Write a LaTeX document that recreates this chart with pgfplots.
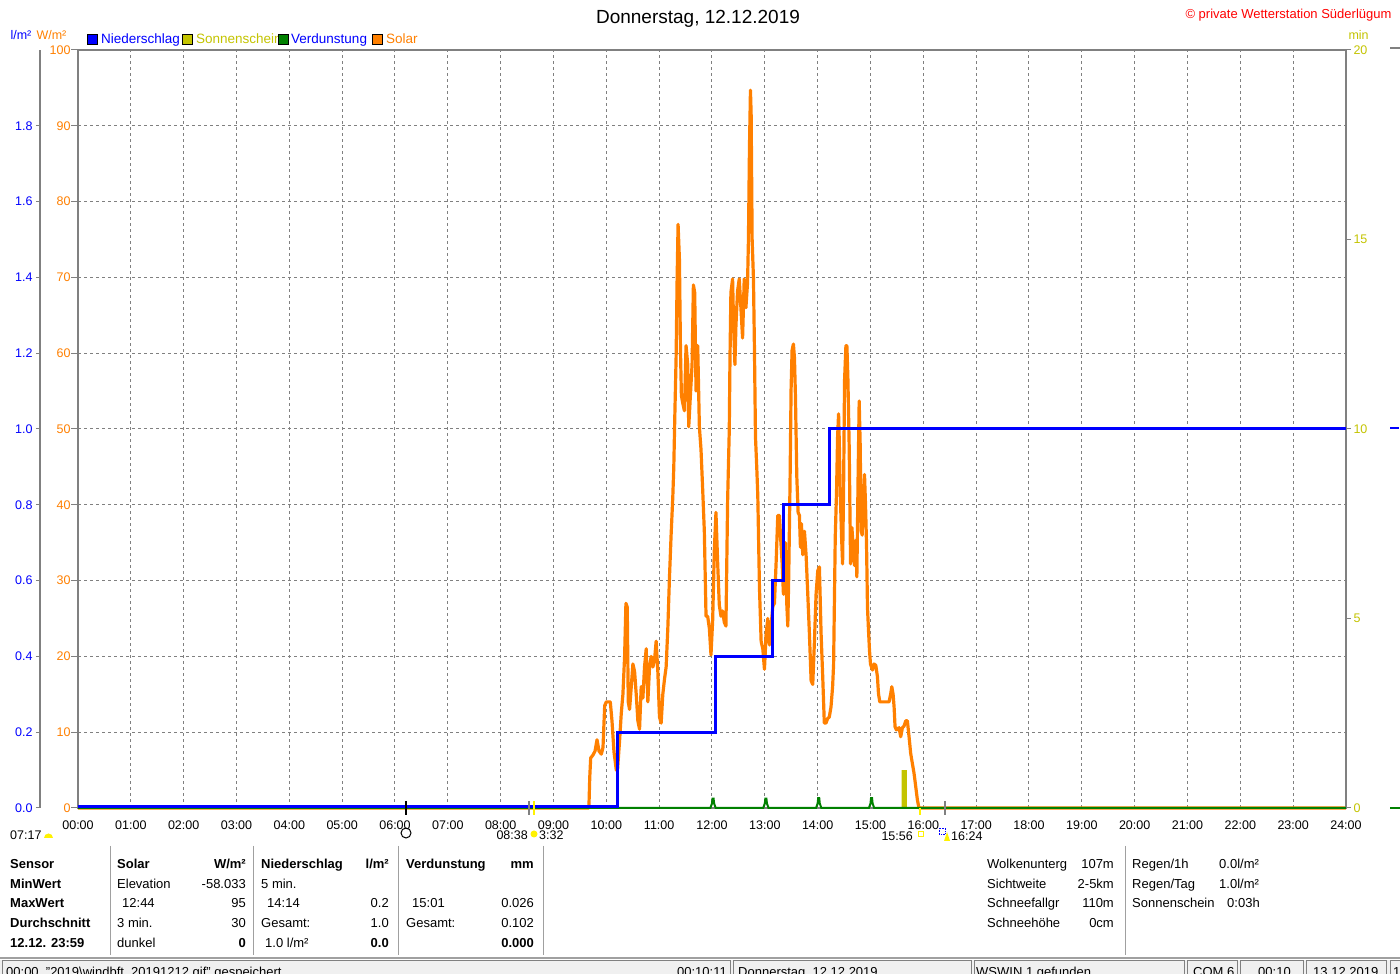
\documentclass[border=0pt]{standalone}
\usepackage{pgfplots}
\pgfplotsset{compat=1.18}
\usepackage{fontspec}
\setmainfont{Liberation Sans}

\definecolor{sorange}{HTML}{FF8000}
\definecolor{sblue}{HTML}{0000FF}
\definecolor{solive}{HTML}{C4C400}
\definecolor{sgreen}{HTML}{008000}
\definecolor{sgray}{HTML}{808080}
\definecolor{lgray}{HTML}{A0A0A0}
\definecolor{sbar}{HTML}{F0F0F0}

\newcommand{\fs}[1]{\fontsize{#1}{#1}\selectfont}

% Solar W/m2, time in hours
\pgfplotstableread{
h W
0 0
9.67 0
9.686 4
9.704 6.6
9.748 7
9.786 7.5
9.824 9
9.862 7.5
9.906 7.1
9.937 8
9.969 13.5
10.0 14
10.075 14
10.107 11.5
10.145 7.4
10.189 5
10.214 5.2
10.252 9
10.283 12.5
10.314 15
10.346 20
10.371 27
10.396 26.5
10.415 14
10.44 13
10.472 16
10.503 19
10.535 18
10.566 15
10.597 11.5
10.629 10.4
10.66 16
10.692 14.5
10.723 18.6
10.755 21
10.786 14
10.818 18.6
10.849 20
10.881 18.6
10.912 19.5
10.943 22
10.975 18
11.006 12
11.038 11.2
11.069 15
11.101 17
11.132 18.6
11.164 23.7
11.195 30.4
11.226 36
11.258 41
11.277 45
11.296 51.6
11.321 59.5
11.34 69.8
11.358 77
11.384 72.3
11.403 60.6
11.421 54.4
11.447 53.4
11.478 52.4
11.509 61
11.541 58.5
11.56 50.3
11.591 54.4
11.623 58.5
11.648 69
11.673 68
11.698 55
11.73 61
11.761 50.3
11.792 47.3
11.824 42
11.855 36.5
11.887 25.3
11.918 25.3
11.95 23.7
11.981 20.2
12.013 24.8
12.044 34
12.075 39
12.107 32.4
12.138 26.8
12.17 25.3
12.201 26
12.233 24.5
12.264 24
12.296 40.6
12.327 49.8
12.34 59
12.358 68
12.39 69.8
12.409 63.6
12.434 58.5
12.453 63.6
12.484 68.2
12.516 69.8
12.547 66
12.579 62
12.61 69.8
12.642 66
12.673 69.3
12.69 75
12.709 87
12.728 94.7
12.741 91.6
12.76 75
12.785 69.8
12.804 60.4
12.823 49
12.848 44.8
12.867 41.2
12.898 29.2
12.93 22
12.962 21
12.993 18.3
13.025 23
13.056 25
13.088 21.5
13.119 24
13.151 26.6
13.182 27
13.214 32.4
13.245 38.6
13.277 38.6
13.296 36
13.327 32.4
13.352 28.2
13.371 32.9
13.39 35
13.415 27
13.435 24
13.453 30.8
13.478 43.3
13.497 55.2
13.516 60.4
13.541 61.2
13.561 59.4
13.58 54.2
13.605 43.8
13.63 39
13.655 38.6
13.674 34.4
13.693 37.5
13.718 33.4
13.75 36.5
13.781 33.4
13.813 28.2
13.844 23
13.876 16.8
13.907 16.3
13.939 22
13.97 28.2
14.002 31.3
14.033 31.8
14.065 23
14.096 17.3
14.126 11.2
14.157 11.2
14.189 11.8
14.22 12
14.252 13.3
14.283 16
14.302 19
14.314 25.6
14.333 35.7
14.358 41.9
14.377 48.9
14.396 52
14.409 48.5
14.428 41.4
14.453 35.7
14.472 32.2
14.491 42.3
14.509 56.4
14.535 61
14.553 61
14.572 56.8
14.597 47.6
14.623 32.2
14.648 37
14.673 34.4
14.698 32
14.723 35.3
14.742 30.5
14.767 44.5
14.786 53.7
14.805 47.9
14.824 36.6
14.843 36
14.862 39.7
14.887 44
14.906 40
14.925 34.8
14.943 26.5
14.962 23.5
14.981 20.8
15.0 19
15.038 18.2
15.069 19
15.101 18.8
15.132 17.3
15.151 15.1
15.176 14
15.352 14
15.384 15.1
15.403 16
15.428 15
15.447 13.3
15.465 10.7
15.491 10.3
15.541 10.6
15.572 9.4
15.604 10.6
15.635 10.8
15.667 11.5
15.698 11.5
15.73 9.4
15.761 7.2
15.792 5.9
15.824 4.6
15.855 2.9
15.887 1.1
15.918 0
24 0
}\solar

\begin{document}
\begin{tikzpicture}
\useasboundingbox (0,0) rectangle (1400pt,974pt);
\clip (0,0) rectangle (1400pt,974pt);
\fill[white] (0,0) rectangle (1400pt,974pt);

% main axis: W/m2
\begin{axis}[
  at={(78pt,166pt)}, anchor=south west,
  scale only axis, width=1268pt, height=758pt,
  xmin=0, xmax=24, ymin=0, ymax=100,
  xtick={0,...,24},
  xticklabels={00:00,01:00,02:00,03:00,04:00,05:00,06:00,07:00,08:00,09:00,10:00,11:00,12:00,13:00,14:00,15:00,16:00,17:00,18:00,19:00,20:00,21:00,22:00,23:00,24:00},
  ytick={0,10,...,100},
  xtick pos=bottom, ytick pos=left,
  tick align=outside, major tick length=7pt,
  xtick style={draw=none},
  ytick style={sgray, line width=1pt},
  xticklabel style={font=\fs{12.5}, black, yshift=-2pt},
  yticklabel style={font=\fs{12.5}, sorange, xshift=3pt},
  /pgf/number format/assume math mode=true,
  grid=major,
  major grid style={sgray, line width=1pt, dash pattern=on 3pt off 3pt},
  axis line style={sgray, line width=2pt},
  clip=false,
]
\addplot[sorange, line width=3.2pt, line join=round] table[x=h, y=W] {\solar};
\end{axis}

% right axis: minutes of sunshine
\begin{axis}[
  at={(78pt,166pt)}, anchor=south west,
  scale only axis, width=1268pt, height=758pt,
  xmin=0, xmax=24, ymin=0, ymax=20,
  axis x line=none, axis y line*=right,
  ytick={0,5,10,15,20},
  tick align=outside, major tick length=5pt,
  ytick style={sgray, line width=1pt},
  yticklabel style={font=\fs{12.5}, solive, xshift=-1pt},
  /pgf/number format/assume math mode=true,
  axis line style={sgray, line width=2pt},
]
\addplot[fill=solive, draw=none] coordinates {(15.59,0) (15.59,1) (15.69,1) (15.69,0)} \closedcycle;
\end{axis}

% l/m2 data axis (precipitation and evaporation)
\begin{axis}[
  at={(78pt,166pt)}, anchor=south west,
  scale only axis, width=1268pt, height=758pt,
  xmin=0, xmax=24, ymin=0, ymax=2,
  hide axis, clip=false,
]
\addplot[sgreen, line width=2pt] coordinates {
  (0,0) (11.97,0) (12.0,0.012) (12.01,0.025) (12.03,0.025) (12.04,0.012) (12.07,0)
  (12.97,0) (13.0,0.012) (13.01,0.025) (13.03,0.025) (13.04,0.012) (13.07,0)
  (13.97,0) (14.0,0.012) (14.01,0.026) (14.03,0.026) (14.04,0.012) (14.07,0)
  (14.97,0) (15.0,0.012) (15.01,0.026) (15.03,0.026) (15.04,0.012) (15.07,0)
  (24,0)};
\addplot[sblue, line width=3pt, const plot] coordinates {
  (0,0.003) (10.22,0.2) (12.06,0.4) (13.15,0.6) (13.35,0.8) (14.22,1.0) (24,1.0)};
\end{axis}

% left l/m2 scale
\begin{axis}[
  at={(40pt,166pt)}, anchor=south west,
  scale only axis, width=37pt, height=758pt,
  xmin=0, xmax=1, ymin=0, ymax=2,
  axis x line=none, axis y line*=left,
  ytick={0,0.2,...,1.8},
  tick align=outside, major tick length=4pt,
  ytick style={sgray, line width=1pt},
  yticklabel style={font=\fs{12.5}, sblue, /pgf/number format/.cd, fixed, fixed zerofill, precision=1},
  /pgf/number format/assume math mode=true,
  axis line style={sgray, line width=1.2pt},
]
\end{axis}

\begin{scope}[shift={(0pt,974pt)}, x=1pt, y=-1pt]
  % title and header
  \node[anchor=base, font=\fs{19}] at (698,24) {Donnerstag, 12.12.2019};
  \node[anchor=base west, font=\fs{13}, red] at (1182,19) {© private Wetterstation Süderlügum};
  \node[anchor=base west, font=\fs{12.5}, sblue] at (7,40) {l/m²};
  \node[anchor=base west, font=\fs{12.5}, sorange] at (33,40) {W/m²};
  \node[anchor=base west, font=\fs{12.5}, solive] at (1345,40) {min};
  % legend
  \filldraw[fill=sblue, draw=black] (87,34) rectangle (97,44);
  \node[anchor=base west, inner sep=0, font=\fs{13.5}, sblue] at (101,44) {Niederschlag};
  \filldraw[fill=solive, draw=black] (182,34) rectangle (192,44);
  \node[anchor=base west, inner sep=0, font=\fs{13.5}, solive] at (196,44) {Sonnenschein};
  \filldraw[fill=sgreen, draw=black] (278,34) rectangle (288,44);
  \node[anchor=base west, inner sep=0, font=\fs{13.5}, sblue] at (291,44) {Verdunstung};
  \filldraw[fill=sorange, draw=black] (372,34) rectangle (382,44);
  \node[anchor=base west, inner sep=0, font=\fs{13.5}, sorange] at (386,44) {Solar};
  % right edge marks
  \draw[sgray, line width=2pt] (1390,48) -- (1400,48);
  \draw[sblue, line width=2pt] (1390,428) -- (1399,428);
  \draw[sgreen, line width=2pt] (1390,808) -- (1400,808);
  % sun and moon marks under the time axis
  \draw[black, line width=2pt] (406,801) -- (406,815);
  \draw[black, line width=1pt] (406,833) circle (5);
  \draw[sgray, line width=2pt] (529,801) -- (529,815);
  \draw[yellow, line width=2pt] (534,801) -- (534,815);
  \fill[yellow] (534,834) circle (3.5);
  \node[anchor=base east, inner sep=0, font=\fs{12.5}] at (528,840) {08:38};
  \node[anchor=base west, inner sep=0, font=\fs{12.5}] at (539,840) {3:32};
  \node[anchor=base west, inner sep=0, font=\fs{12.5}] at (10,840) {07:17};
  \fill[yellow] (44,838) arc (180:360:4.5) -- cycle;
  \draw[yellow, line width=2pt] (920,808) -- (920,815);
  \draw[yellow, line width=1pt] (918,832) rectangle (923,837);
  \node[anchor=base east, inner sep=0, font=\fs{12.5}] at (913,841) {15:56};
  \draw[sgray, line width=2pt] (945,801) -- (945,815);
  \draw[sblue, line width=0.6pt, densely dotted] (939,828) rectangle (945,834);
  \fill[yellow] (944,841) -- (950,841) -- (947,832) -- cycle;
  \node[anchor=base west, inner sep=0, font=\fs{12.5}] at (951,841) {16:24};
  % info table
  \foreach \x in {110,253,398,543,1125} \draw[lgray, line width=1pt] (\x,846) -- (\x,955);
  \begin{scope}[every node/.style={inner sep=0, font=\fs{13}}]
    \node[anchor=base west, font=\fs{13}\bfseries] at (10,869) {Sensor};
    \node[anchor=base west, font=\fs{13}\bfseries] at (10,889) {MinWert};
    \node[anchor=base west, font=\fs{13}\bfseries] at (10,908) {MaxWert};
    \node[anchor=base west, font=\fs{13}\bfseries] at (10,928) {Durchschnitt};
    \node[anchor=base west, font=\fs{13}\bfseries] at (10,948) {12.12. 23:59};
    \node[anchor=base west, font=\fs{13}\bfseries] at (117,869) {Solar};
    \node[anchor=base east, font=\fs{13}\bfseries] at (246,869) {W/m²};
    \node[anchor=base west] at (117,889) {Elevation};
    \node[anchor=base east] at (246,889) {-58.033};
    \node[anchor=base west] at (122,908) {12:44};
    \node[anchor=base east] at (246,908) {95};
    \node[anchor=base west] at (117,928) {3 min.};
    \node[anchor=base east] at (246,928) {30};
    \node[anchor=base west] at (117,948) {dunkel};
    \node[anchor=base east, font=\fs{13}\bfseries] at (246,948) {0};
    \node[anchor=base west, font=\fs{13}\bfseries] at (261,869) {Niederschlag};
    \node[anchor=base east, font=\fs{13}\bfseries] at (389,869) {l/m²};
    \node[anchor=base west] at (261,889) {5 min.};
    \node[anchor=base west] at (267,908) {14:14};
    \node[anchor=base east] at (389,908) {0.2};
    \node[anchor=base west] at (261,928) {Gesamt:};
    \node[anchor=base east] at (389,928) {1.0};
    \node[anchor=base west] at (265,948) {1.0 l/m²};
    \node[anchor=base east, font=\fs{13}\bfseries] at (389,948) {0.0};
    \node[anchor=base west, font=\fs{13}\bfseries] at (406,869) {Verdunstung};
    \node[anchor=base east, font=\fs{13}\bfseries] at (534,869) {mm};
    \node[anchor=base west] at (412,908) {15:01};
    \node[anchor=base east] at (534,908) {0.026};
    \node[anchor=base west] at (406,928) {Gesamt:};
    \node[anchor=base east] at (534,928) {0.102};
    \node[anchor=base east, font=\fs{13}\bfseries] at (534,948) {0.000};
    \node[anchor=base west] at (987,869) {Wolkenunterg};
    \node[anchor=base east] at (1114,869) {107m};
    \node[anchor=base west] at (987,889) {Sichtweite};
    \node[anchor=base east] at (1114,889) {2-5km};
    \node[anchor=base west] at (987,908) {Schneefallgr};
    \node[anchor=base east] at (1114,908) {110m};
    \node[anchor=base west] at (987,928) {Schneehöhe};
    \node[anchor=base east] at (1114,928) {0cm};
    \node[anchor=base west] at (1132,869) {Regen/1h};
    \node[anchor=base west] at (1219,869) {0.0l/m²};
    \node[anchor=base west] at (1132,889) {Regen/Tag};
    \node[anchor=base west] at (1219,889) {1.0l/m²};
    \node[anchor=base west] at (1132,908) {Sonnenschein};
    \node[anchor=base west] at (1227,908) {0:03h};
  \end{scope}
  % status bar
  \draw[lgray, line width=1.5pt] (0,958) -- (1400,958);
  \fill[sbar] (0,960) rectangle (1400,974);
  \foreach \a/\b in {2/730, 733/971, 974/1184, 1187/1237, 1240/1303, 1306/1386, 1390/1402}
    \draw[sgray, line width=1pt] (\a,974.5) -- (\a,961) -- (\b,961) -- (\b,974.5);
  \begin{scope}[every node/.style={inner sep=0, font=\fs{13}, anchor=base west}]
    \node at (6,977) {00:00\ \ "2019\textbackslash windbft\_20191212.gif" gespeichert};
    \node[anchor=base east] at (727,977) {00:10:11};
    \node at (738,977) {Donnerstag, 12.12.2019};
    \node at (976,977) {WSWIN 1 gefunden};
    \node at (1193,977) {COM 6};
    \node at (1258,977) {00:10};
    \node at (1313,977) {13.12.2019};
    \node at (1393,977) {1};
  \end{scope}
\end{scope}
\end{tikzpicture}
\end{document}
